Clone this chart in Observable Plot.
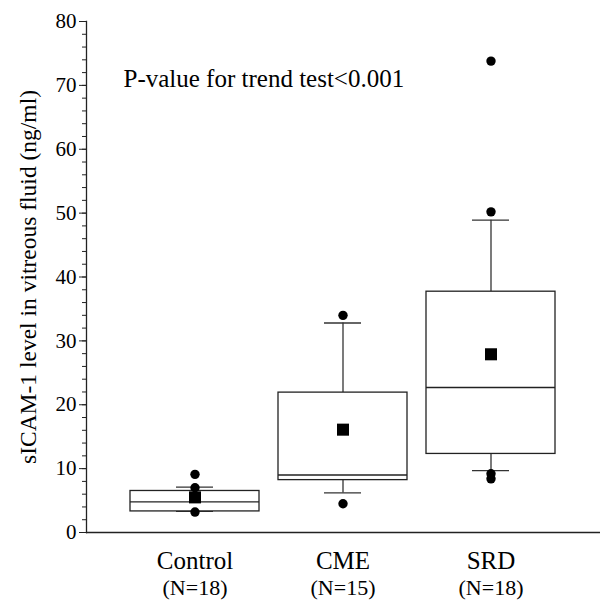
<!DOCTYPE html>
<html><head><meta charset="utf-8">
<script src="https://cdn.jsdelivr.net/npm/d3@7"></script>
<script src="https://cdn.jsdelivr.net/npm/@observablehq/plot@0.6"></script>
<style>body{margin:0;background:#fff} svg text{font-family:'Liberation Serif','Times New Roman',serif;}</style>
</head><body><div id="chart"></div>
<script>
const categories = ["Control", "CME", "SRD"];
const nLabels = ["(N=18)", "(N=15)", "(N=18)"];
const q1 = [3.3, 8.2, 12.3];
const medians = [4.8, 9.0, 22.7];
const q3 = [6.5, 21.9, 37.7];
const whiskerLow = [3.3, 6.2, 9.7];
const whiskerHigh = [7.1, 32.8, 48.9];
const means = [5.5, 16.1, 27.9];
const outlierGroups = ["Control", "Control", "Control", "CME", "CME", "SRD", "SRD", "SRD", "SRD"];
const outlierValues = [9.1, 7.0, 3.2, 34.0, 4.5, 73.8, 50.2, 9.2, 8.4];
const majorTicks = [0, 10, 20, 30, 40, 50, 60, 70, 80];
const minorTicks = d3.range(0, 81, 2);
const yLabel = "sICAM-1 level in vitreous fluid (ng/ml)";
const annotation = "P-value for trend test<0.001";

const boxes = categories.map((c, i) => ({group: c, q1: q1[i], median: medians[i], q3: q3[i], lo: whiskerLow[i], hi: whiskerHigh[i], mean: means[i]}));
const outliers = outlierGroups.map((g, i) => ({group: g, value: outlierValues[i]}));

const ink = "#222";
const serif = "'Liberation Serif', 'Times New Roman', serif";
const chart = Plot.plot({
  width: 600, height: 614,
  marginLeft: 86, marginRight: 0, marginTop: 21, marginBottom: 82,
  style: {fontFamily: serif, background: "#fff", color: "#000"},
  x: {domain: categories, paddingInner: 0.126, paddingOuter: 0.291, axis: null},
  y: {domain: [0, 80], axis: null},
  marks: [
    Plot.axisY({ticks: minorTicks, tickSize: 4, tickFormat: () => "", label: null, stroke: ink}),
    Plot.axisY({ticks: majorTicks, tickSize: 7, tickPadding: 3, fontSize: 21, fontFamily: serif, label: null, stroke: ink}),
    Plot.text([yLabel], {frameAnchor: "left", textAnchor: "middle", rotate: -90, dx: -58, fontSize: 23.5, fontFamily: serif, fill: "#000"}),
    Plot.frame({anchor: "left", stroke: ink, strokeWidth: 1.3}),
    Plot.ruleY([0], {stroke: ink, strokeWidth: 1.3}),
    Plot.ruleX(boxes, {x: "group", y1: "q3", y2: "hi", stroke: "#333", strokeWidth: 1.3}),
    Plot.ruleX(boxes, {x: "group", y1: "q1", y2: "lo", stroke: "#333", strokeWidth: 1.3}),
    Plot.tickY(boxes, {x: "group", y: "hi", insetLeft: 46, insetRight: 46, stroke: "#333", strokeWidth: 1.3}),
    Plot.tickY(boxes, {x: "group", y: "lo", insetLeft: 46, insetRight: 46, stroke: "#333", strokeWidth: 1.3}),
    Plot.barY(boxes, {x: "group", y1: "q1", y2: "q3", fill: "white", stroke: ink, strokeWidth: 1.3}),
    Plot.tickY(boxes, {x: "group", y: "median", stroke: ink, strokeWidth: 1.3}),
    Plot.dot(outliers, {x: "group", y: "value", r: 4.7, fill: "#000", stroke: "none"}),
    Plot.dot(boxes, {x: "group", y: "mean", symbol: "square", r: 6.8, fill: "#000", stroke: "none"}),
    Plot.axisX({tickSize: 0, tickPadding: 19, fontSize: 25, fontFamily: serif, label: null}),
    Plot.axisX({tickSize: 0, tickPadding: 47, fontSize: 22, fontFamily: serif, label: null, tickFormat: d => nLabels[categories.indexOf(d)]}),
    Plot.text([annotation], {frameAnchor: "top-left", textAnchor: "start", dx: 37, dy: 48, fontSize: 25, fontFamily: serif, fill: "#000"})
  ]
});
document.getElementById("chart").append(chart);
</script>
</body></html>
